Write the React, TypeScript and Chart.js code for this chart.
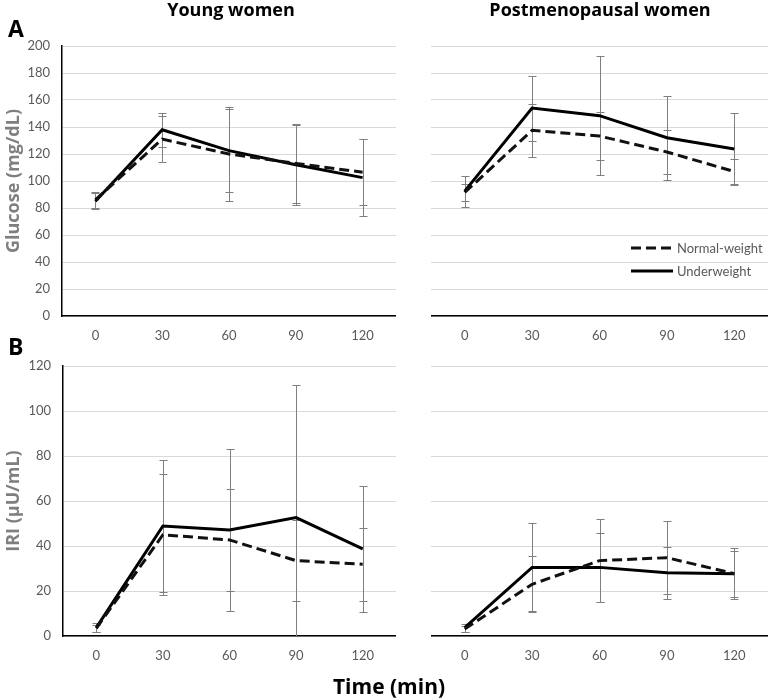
import React, { useEffect, useRef } from "react";
import { Chart, registerables } from "chart.js";
Chart.register(...registerables);

const timeLabels = ["0", "30", "60", "90", "120"];

const glucoseYoungNormal = [86, 131, 120, 113, 106.5];
const glucoseYoungNormalSD = [6, 17, 35, 29, 24.5];
const glucoseYoungUnder = [85, 138, 122.5, 112, 102.5];
const glucoseYoungUnderSD = [6, 12.5, 31, 29.5, 28.5];

const glucosePostNormal = [91.5, 137.5, 133.3, 121.5, 107];
const glucosePostNormalSD = [6, 19.5, 17.5, 16.5, 9.5];
const glucosePostUnder = [92.5, 154, 148.4, 132, 123.7];
const glucosePostUnderSD = [11.5, 24, 44, 31, 26.5];

const iriYoungNormal = [3.4, 45, 42.7, 33.5, 31.9];
const iriYoungNormalSD = [1.5, 26.8, 22.5, 18, 16.2];
const iriYoungUnder = [3.7, 48.9, 47.1, 52.6, 38.7];
const iriYoungUnderSD = [2, 29.5, 36, 59, 28];

const iriPostNormal = [3.1, 23, 33.5, 34.8, 27.7];
const iriPostNormalSD = [1.5, 12.5, 18.5, 16.3, 10.3];
const iriPostUnder = [3.7, 30.5, 30.5, 28.1, 27.7];
const iriPostUnderSD = [1.8, 19.5, 15.5, 11.5, 11.2];

const seriesNames = ["Normal-weight", "Underweight"];

const FONT = "'Open Sans', 'DejaVu Sans', sans-serif";
const TICK_FONT = "Lato, 'Open Sans', sans-serif";

const errorBarPlugin = {
  id: "errorBars",
  beforeDatasetsDraw(chart: any) {
    const { ctx, chartArea, scales } = chart;
    ctx.save();
    ctx.beginPath();
    ctx.rect(chartArea.left, chartArea.top - 2, chartArea.width, chartArea.height + 2);
    ctx.clip();
    ctx.strokeStyle = "#7f7f7f";
    ctx.lineWidth = 1;
    chart.data.datasets.forEach((ds: any, i: number) => {
      const meta = chart.getDatasetMeta(i);
      const errs: number[] = ds.errors || [];
      meta.data.forEach((pt: any, j: number) => {
        const v = ds.data[j];
        const e = errs[j] || 0;
        const x = Math.round(pt.x) + 0.5;
        const yT = Math.round(scales.y.getPixelForValue(v + e)) + 0.5;
        const yB = Math.round(scales.y.getPixelForValue(v - e)) + 0.5;
        ctx.beginPath();
        ctx.moveTo(x, yT);
        ctx.lineTo(x, yB);
        ctx.moveTo(x - 4, yT);
        ctx.lineTo(x + 4, yT);
        if (v - e >= scales.y.min) {
          ctx.moveTo(x - 4, yB);
          ctx.lineTo(x + 4, yB);
        }
        ctx.stroke();
      });
    });
    ctx.restore();
  },
};

type PanelProps = {
  left: number;
  top: number;
  width: number;
  height: number;
  padTop: number;
  xAxisHeight: number;
  yAxisWidth: number;
  showY: boolean;
  yTitle?: string;
  yMax: number;
  yStep: number;
  normal: number[];
  normalSD: number[];
  under: number[];
  underSD: number[];
};

function Panel(p: PanelProps) {
  const ref = useRef<HTMLCanvasElement | null>(null);
  useEffect(() => {
    if (!ref.current) return;
    const chart = new Chart(ref.current, {
      type: "line",
      data: {
        labels: timeLabels,
        datasets: [
          {
            label: seriesNames[0],
            data: p.normal,
            errors: p.normalSD,
            borderColor: "#111111",
            borderWidth: 3,
            borderDash: [10, 5],
            pointRadius: 0,
            tension: 0,
            fill: false,
          } as any,
          {
            label: seriesNames[1],
            data: p.under,
            errors: p.underSD,
            borderColor: "#000000",
            borderWidth: 3,
            pointRadius: 0,
            tension: 0,
            fill: false,
          } as any,
        ],
      },
      options: {
        animation: false,
        responsive: false,
        maintainAspectRatio: false,
        layout: { padding: { top: p.padTop, bottom: 0, left: 0, right: 0 } },
        plugins: { legend: { display: false }, tooltip: { enabled: false } },
        scales: {
          x: {
            type: "category",
            offset: true,
            grid: { display: false, drawTicks: false, tickLength: 0 },
            border: { display: true, color: "#000000", width: 1.5 },
            ticks: {
              color: "#595959",
              font: { family: TICK_FONT, size: 13 },
              padding: 12,
              maxRotation: 0,
            },
            afterFit: (s: any) => {
              s.height = p.xAxisHeight;
            },
          },
          y: {
            min: 0,
            max: p.yMax,
            grid: { color: "#d9d9d9", lineWidth: 1, drawTicks: false, tickLength: 0 },
            border: { display: p.showY, color: "#000000", width: 1.5 },
            ticks: {
              display: p.showY,
              stepSize: p.yStep,
              color: "#595959",
              font: { family: TICK_FONT, size: 13 },
              padding: 12,
            },
            title: {
              display: !!p.yTitle,
              text: p.yTitle || "",
              color: "#7f7f7f",
              font: { family: FONT, size: 18, weight: "bold" },
              padding: { top: 3, bottom: 0 },
            },
            afterFit: (s: any) => {
              s.width = p.yAxisWidth;
            },
          },
        },
      } as any,
      plugins: [errorBarPlugin],
    });
    return () => chart.destroy();
  }, []);
  return (
    <canvas
      ref={ref}
      width={p.width}
      height={p.height}
      style={{ position: "absolute", left: p.left, top: p.top, width: p.width, height: p.height }}
    />
  );
}

const textBase: React.CSSProperties = {
  position: "absolute",
  fontFamily: FONT,
  fontWeight: "bold",
  color: "#000",
  whiteSpace: "nowrap",
  lineHeight: 1,
};

export default function App() {
  return (
    <div
      style={{
        position: "absolute",
        left: 0,
        top: 0,
        width: 768,
        height: 700,
        background: "#ffffff",
        overflow: "hidden",
      }}
    >
      <Panel
        left={0}
        top={0}
        width={396}
        height={345}
        padTop={46}
        xAxisHeight={29}
        yAxisWidth={62}
        showY={true}
        yTitle="Glucose (mg/dL)"
        yMax={200}
        yStep={20}
        normal={glucoseYoungNormal}
        normalSD={glucoseYoungNormalSD}
        under={glucoseYoungUnder}
        underSD={glucoseYoungUnderSD}
      />
      <Panel
        left={431}
        top={0}
        width={337}
        height={345}
        padTop={46}
        xAxisHeight={29}
        yAxisWidth={0}
        showY={false}
        yMax={200}
        yStep={20}
        normal={glucosePostNormal}
        normalSD={glucosePostNormalSD}
        under={glucosePostUnder}
        underSD={glucosePostUnderSD}
      />
      <Panel
        left={0}
        top={345}
        width={396}
        height={330}
        padTop={21}
        xAxisHeight={39}
        yAxisWidth={63}
        showY={true}
        yTitle="IRI (µU/mL)"
        yMax={120}
        yStep={20}
        normal={iriYoungNormal}
        normalSD={iriYoungNormalSD}
        under={iriYoungUnder}
        underSD={iriYoungUnderSD}
      />
      <Panel
        left={431}
        top={345}
        width={337}
        height={330}
        padTop={21}
        xAxisHeight={39}
        yAxisWidth={0}
        showY={false}
        yMax={120}
        yStep={20}
        normal={iriPostNormal}
        normalSD={iriPostNormalSD}
        under={iriPostUnder}
        underSD={iriPostUnderSD}
      />

      <div style={{ ...textBase, left: 8, top: 17, fontSize: 23 }}>A</div>
      <div style={{ ...textBase, left: 8, top: 335, fontSize: 23 }}>B</div>
      <div style={{ ...textBase, left: 231, top: 0, fontSize: 18, transform: "translateX(-50%)" }}>
        Young women
      </div>
      <div style={{ ...textBase, left: 600, top: 0, fontSize: 18, transform: "translateX(-50%)" }}>
        Postmenopausal women
      </div>
      <div style={{ ...textBase, left: 389, top: 676, fontSize: 21, transform: "translateX(-50%)" }}>
        Time (min)
      </div>

      <svg style={{ position: "absolute", left: 631, top: 240 }} width={44} height={40}>
        <line x1={0} y1={8} x2={40} y2={8} stroke="#111" strokeWidth={3} strokeDasharray="10 5" />
        <line x1={0} y1={31} x2={42} y2={31} stroke="#000" strokeWidth={3} />
      </svg>
      <div
        style={{
          position: "absolute",
          left: 677,
          top: 240,
          fontFamily: TICK_FONT,
          fontSize: 13,
          color: "#595959",
          lineHeight: "16px",
        }}
      >
        {seriesNames[0]}
      </div>
      <div
        style={{
          position: "absolute",
          left: 677,
          top: 263,
          fontFamily: TICK_FONT,
          fontSize: 13,
          color: "#595959",
          lineHeight: "16px",
        }}
      >
        {seriesNames[1]}
      </div>
    </div>
  );
}
